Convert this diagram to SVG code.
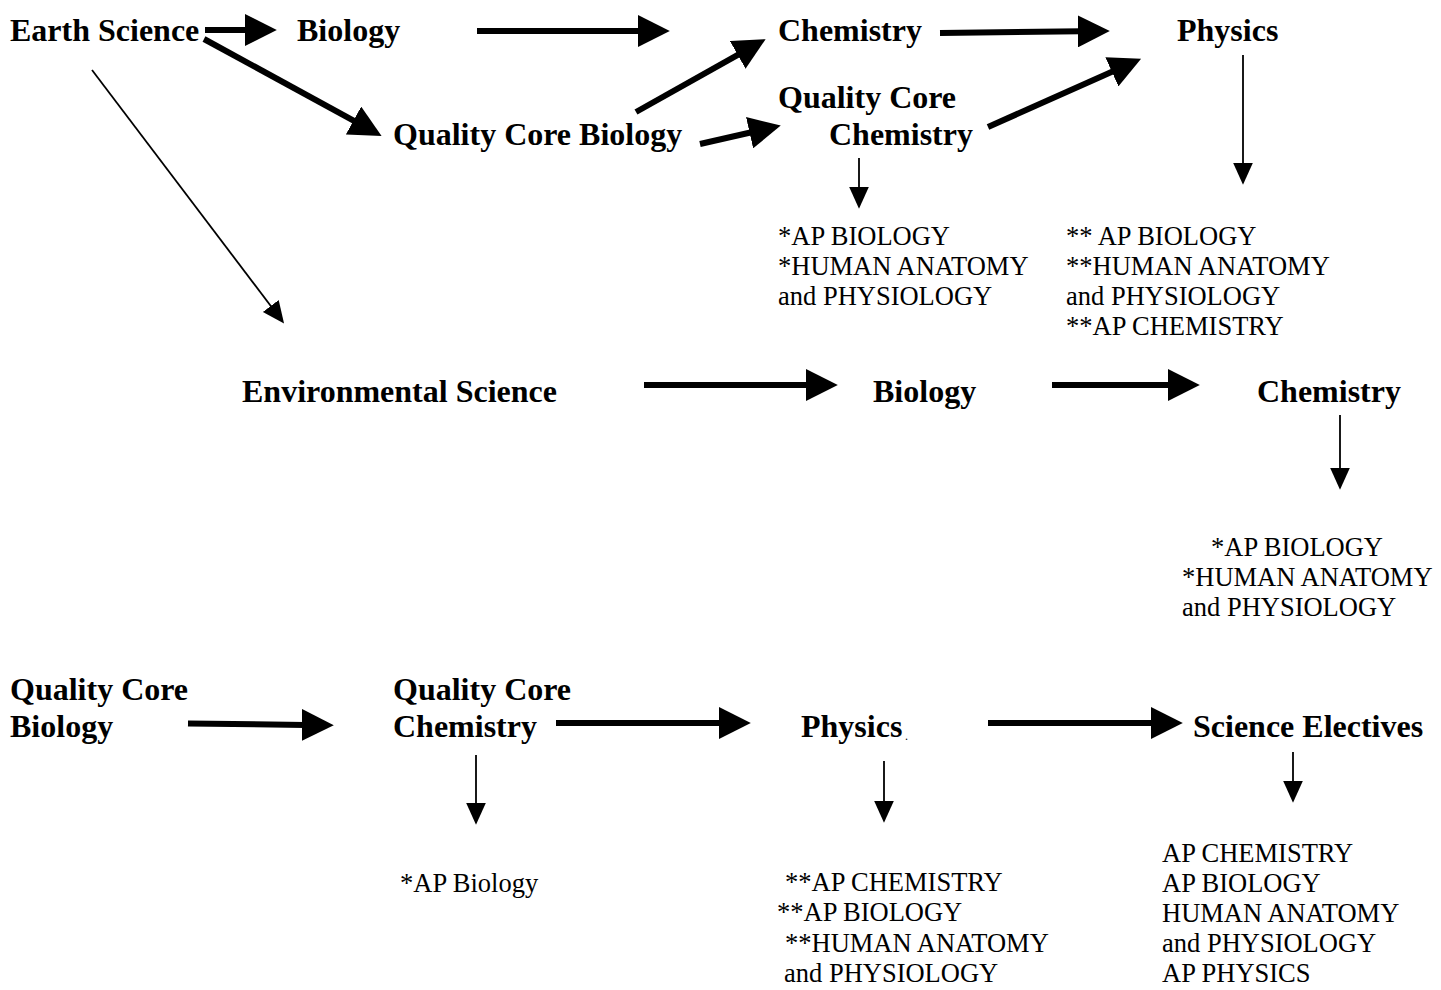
<svg xmlns="http://www.w3.org/2000/svg" width="1441" height="990" viewBox="0 0 1441 990">
<style>
.b{font-family:"Liberation Serif","Times New Roman",serif;font-weight:bold;font-size:32px;fill:#000}
.r{font-family:"Liberation Serif","Times New Roman",serif;font-size:26.5px;fill:#000}
.thick{stroke:#000;stroke-width:6;fill:none;marker-end:url(#hb)}
.thin{stroke:#000;stroke-width:1.8;fill:none;marker-end:url(#hs)}
</style>
<defs>
<marker id="hb" markerUnits="userSpaceOnUse" markerWidth="32" markerHeight="32" refX="3" refY="15" orient="auto" viewBox="0 0 30 30"><path d="M0,0 L30,15 L0,30 Z" fill="#000"/></marker>
<marker id="hs" markerUnits="userSpaceOnUse" markerWidth="22" markerHeight="22" refX="2" refY="9" orient="auto" viewBox="0 0 20 18"><path d="M0,0 L20,9 L0,18 Z" fill="#000"/></marker>
</defs>
<rect width="1441" height="990" fill="#fff"/>
<g id="connectors">
<path class="thick" d="M205,30 L248,30"/>
<path class="thick" d="M477,31 L641,31"/>
<path class="thick" d="M940,33 L1081,31.3"/>
<path class="thick" d="M204,39 L356.3,122.1"/>
<path class="thick" d="M636,112 L740.5,53.3"/>
<path class="thick" d="M700,144 L752.7,132"/>
<path class="thick" d="M988,127 L1114.8,70.5"/>
<path class="thick" d="M644,385 L809,385"/>
<path class="thick" d="M1052,385 L1171,385"/>
<path class="thick" d="M188,723.5 L305,725"/>
<path class="thick" d="M556,723 L722,723"/>
<path class="thick" d="M988,723 L1154,723"/>
<path class="thin" d="M92,70 L272.1,307.7"/>
<path class="thin" d="M859,158 L859,189"/>
<path class="thin" d="M1243,55 L1243,165"/>
<path class="thin" d="M1340,415 L1340,470"/>
<path class="thin" d="M476,755 L476,805"/>
<path class="thin" d="M884,761 L884,803"/>
<path class="thin" d="M1293,752 L1293,783"/>
</g>
<g id="earth-science"><text class="b" x="10" y="41">Earth Science</text></g>
<g id="biology-1"><text class="b" x="297" y="41">Biology</text></g>
<g id="chemistry-1"><text class="b" x="778" y="41">Chemistry</text></g>
<g id="physics-1"><text class="b" x="1177" y="41">Physics</text></g>
<g id="qc-biology-1"><text class="b" x="393" y="145">Quality Core Biology</text></g>
<g id="qc-chemistry-1"><text class="b" x="778" y="108">Quality Core</text><text class="b" x="829" y="145">Chemistry</text></g>
<g id="electives-a"><text class="r" x="778" y="245">*AP BIOLOGY</text><text class="r" x="778" y="275">*HUMAN ANATOMY</text><text class="r" x="778" y="305">and PHYSIOLOGY</text></g>
<g id="electives-b"><text class="r" x="1066" y="245">** AP BIOLOGY</text><text class="r" x="1066" y="275">**HUMAN ANATOMY</text><text class="r" x="1066" y="305">and PHYSIOLOGY</text><text class="r" x="1066" y="335">**AP CHEMISTRY</text></g>
<g id="environmental-science"><text class="b" x="242" y="402">Environmental Science</text></g>
<g id="biology-2"><text class="b" x="873" y="402">Biology</text></g>
<g id="chemistry-2"><text class="b" x="1257" y="402">Chemistry</text></g>
<g id="electives-c"><text class="r" x="1211" y="556">*AP BIOLOGY</text><text class="r" x="1182" y="586">*HUMAN ANATOMY</text><text class="r" x="1182" y="616">and PHYSIOLOGY</text></g>
<g id="qc-biology-2"><text class="b" x="10" y="700">Quality Core</text><text class="b" x="10" y="737">Biology</text></g>
<g id="qc-chemistry-2"><text class="b" x="393" y="700">Quality Core</text><text class="b" x="393" y="737">Chemistry</text></g>
<g id="physics-2"><text class="b" x="801" y="737">Physics</text><text class="r" x="905" y="740" style="font-size:12px">.</text></g>
<g id="science-electives"><text class="b" x="1193" y="737">Science Electives</text></g>
<g id="electives-d"><text class="r" x="400" y="892">*AP Biology</text></g>
<g id="electives-e"><text class="r" x="785" y="891">**AP CHEMISTRY</text><text class="r" x="777" y="921">**AP BIOLOGY</text><text class="r" x="785" y="952">**HUMAN ANATOMY</text><text class="r" x="784" y="982">and PHYSIOLOGY</text></g>
<g id="electives-f"><text class="r" x="1162" y="862">AP CHEMISTRY</text><text class="r" x="1162" y="892">AP BIOLOGY</text><text class="r" x="1162" y="922">HUMAN ANATOMY</text><text class="r" x="1162" y="952">and PHYSIOLOGY</text><text class="r" x="1162" y="982">AP PHYSICS</text></g>
</svg>
